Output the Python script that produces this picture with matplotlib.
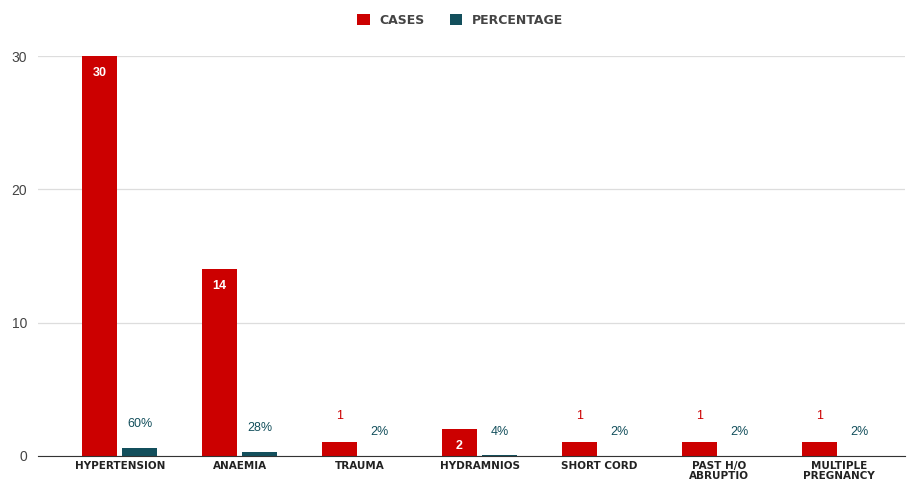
import matplotlib.pyplot as plt
import numpy as np

plt.rcParams['font.family'] = ['Liberation Sans', 'DejaVu Sans']

categories = ['HYPERTENSION', 'ANAEMIA', 'TRAUMA', 'HYDRAMNIOS', 'SHORT CORD',
              'PAST H/O\nABRUPTIO', 'MULTIPLE\nPREGNANCY']
cases = [30, 14, 1, 2, 1, 1, 1]
percentage = [0.60, 0.28, 0.02, 0.04, 0.02, 0.02, 0.02]

red = '#cc0000'
teal = '#134f5c'

fig = plt.figure(figsize=(9.08, 4.88), dpi=100)
ax = fig.add_axes([0.042, 0.066, 0.955, 0.819])

x = np.arange(len(categories))
w = 0.29
b1 = ax.bar(x - 0.167, cases, w, color=red, label='CASES', zorder=3)
b2 = ax.bar(x + 0.167, percentage, w, color=teal, label='PERCENTAGE', zorder=3)

# value labels: big bars get white text inside, small ones go above
for xi, v in zip(x, cases):
    if v >= 2:
        ax.annotate(str(v), xy=(xi - 0.167, v), xytext=(0, -12), textcoords='offset points',
                    ha='center', va='center', color='white', fontsize=9, fontweight='bold')
    else:
        ax.annotate(str(v), xy=(xi - 0.167, v), xytext=(0, 19), textcoords='offset points',
                    ha='center', va='center', color=red, fontsize=9)
for xi, p in zip(x, percentage):
    ax.annotate(f'{p:.0%}', xy=(xi + 0.167, p), xytext=(0, 17), textcoords='offset points',
                ha='center', va='center', color=teal, fontsize=9)

ax.set_xlim(-0.68, 6.55)
ax.set_ylim(0, 30)
ax.set_yticks([0, 10, 20, 30])
ax.set_xticks(x)
ax.set_xticklabels(categories, fontsize=7.5, fontweight='bold', color='#222222',
                   linespacing=0.95, family='DejaVu Sans')
ax.tick_params(axis='y', labelsize=10, colors='#444444', length=0, pad=8)
ax.tick_params(axis='x', length=0, pad=4)
ax.grid(axis='y', color='#dddddd', linewidth=0.9, zorder=0)
for s in ['top', 'right', 'left']:
    ax.spines[s].set_visible(False)
ax.spines['bottom'].set_color('#333333')
ax.spines['bottom'].set_zorder(4)

leg = fig.legend(handles=[b1, b2], loc='center', bbox_to_anchor=(0.507, 0.958), ncol=2,
                 frameon=False, prop={'family': 'DejaVu Sans', 'weight': 'bold', 'size': 9},
                 handlelength=1.0, handleheight=1.0, columnspacing=2.0, handletextpad=0.8)
for t in leg.get_texts():
    t.set_color('#444444')

fig.savefig('out.png', dpi=100)
